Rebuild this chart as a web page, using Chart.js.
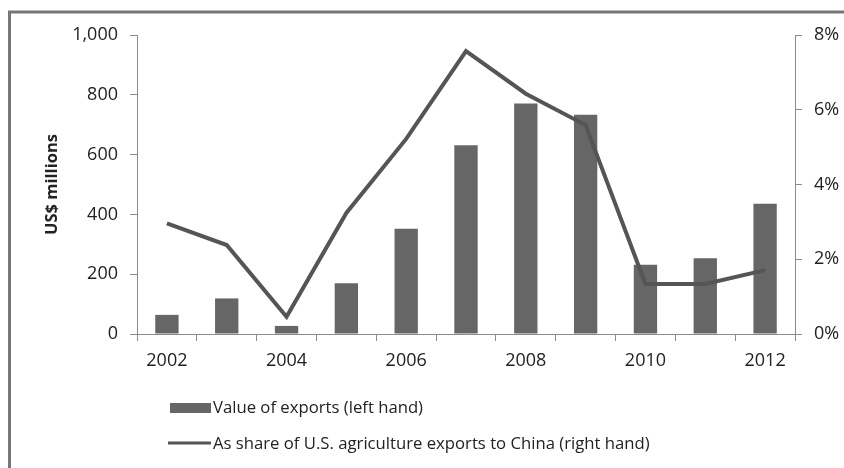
<!DOCTYPE html>
<html>
<head>
<meta charset="utf-8">
<script src="https://cdn.jsdelivr.net/npm/chart.js@4.4.1/dist/chart.umd.min.js"></script>
<style>
  html, body { margin: 0; padding: 0; background: #fff; }
  #wrap { width: 844px; height: 468px; position: relative; }
</style>
</head>
<body>
<div id="wrap"><canvas id="c" width="844" height="468"></canvas></div>
<script>
const years = ['2002','2003','2004','2005','2006','2007','2008','2009','2010','2011','2012'];
const exportValues = [64, 119, 27, 170, 352, 631, 771, 733, 232, 253, 436];
const sharePercent = [2.96, 2.38, 0.46, 3.24, 5.22, 7.57, 6.43, 5.59, 1.34, 1.34, 1.71];
const leftTicks = [0, 200, 400, 600, 800, 1000];
const rightTicks = [0, 2, 4, 6, 8];
const seriesLabels = ['Value of exports (left hand)', 'As share of U.S. agriculture exports to China (right hand)'];
const yTitle = 'US$ millions';

const FONT = '"Open Sans", "Noto Sans", sans-serif';
const barColor = '#666666';
const lineColor = '#555555';
const axisColor = '#8c8c8c';
const textColor = '#222222';

const framePlugin = {
  id: 'frame',
  beforeDraw(chart) {
    const ctx = chart.ctx;
    ctx.save();
    ctx.fillStyle = '#fff';
    ctx.fillRect(0, 0, chart.width, chart.height);
    ctx.strokeStyle = '#777';
    ctx.lineWidth = 3;
    ctx.beginPath();
    ctx.moveTo(844, 12);
    ctx.lineTo(9.5, 12);
    ctx.lineTo(9.5, 468);
    ctx.stroke();
    ctx.restore();
  }
};

const legendPlugin = {
  id: 'customLegend',
  afterDraw(chart) {
    const ctx = chart.ctx;
    const ds = chart.data.datasets;
    ctx.save();
    ctx.font = '16.7px ' + FONT;
    ctx.fillStyle = textColor;
    ctx.textBaseline = 'middle';
    ctx.textAlign = 'left';
    // bar item
    ctx.fillStyle = ds[0].backgroundColor;
    ctx.fillRect(170, 403, 41, 10);
    ctx.fillStyle = textColor;
    ctx.fillText(ds[0].label, 213, 408);
    // line item
    ctx.strokeStyle = ds[1].borderColor;
    ctx.lineWidth = 3;
    ctx.beginPath();
    ctx.moveTo(168, 443);
    ctx.lineTo(211, 443);
    ctx.stroke();
    ctx.fillText(ds[1].label, 213, 444);
    ctx.restore();
  }
};

new Chart(document.getElementById('c'), {
  data: {
    labels: years,
    datasets: [
      {
        type: 'bar',
        label: seriesLabels[0],
        data: exportValues,
        backgroundColor: barColor,
        borderWidth: 0,
        yAxisID: 'yL',
        categoryPercentage: 1,
        barPercentage: 0.39,
        order: 2
      },
      {
        type: 'line',
        label: seriesLabels[1],
        data: sharePercent,
        borderColor: lineColor,
        borderWidth: 4,
        pointRadius: 0,
        tension: 0,
        fill: false,
        yAxisID: 'yR',
        order: 1
      }
    ]
  },
  options: {
    responsive: false,
    animation: false,
    layout: { padding: { left: 42, top: 35, right: 0, bottom: 0 } },
    plugins: { legend: { display: false }, tooltip: { enabled: false } },
    scales: {
      x: {
        offset: true,
        grid: { offset: true, drawOnChartArea: false, drawTicks: true, tickLength: 7, color: axisColor },
        border: { color: axisColor, width: 1 },
        ticks: {
          autoSkip: false, maxRotation: 0, padding: 9,
          color: textColor, font: { family: FONT, size: 18 },
          callback: (v, i) => (i % 2 === 0 ? years[i] : '')
        },
        afterFit(s) { s.height = 134; }
      },
      yL: {
        position: 'left',
        min: 0, max: 1000,
        afterBuildTicks(s) { s.ticks = leftTicks.map(v => ({ value: v })); },
        grid: { drawOnChartArea: false, drawTicks: true, tickLength: 7, color: axisColor },
        border: { color: axisColor, width: 1 },
        ticks: {
          padding: 12, color: textColor, font: { family: FONT, size: 18 },
          callback: v => v.toLocaleString('en-US')
        },
        title: { display: true, text: yTitle, color: textColor, padding: 0, font: { family: FONT, size: 16.5, weight: 'bold' } },
        afterFit(s) { s.width = 95; }
      },
      yR: {
        position: 'right',
        min: 0, max: 8,
        afterBuildTicks(s) { s.ticks = rightTicks.map(v => ({ value: v })); },
        grid: { drawOnChartArea: false, drawTicks: true, tickLength: 7, color: axisColor },
        border: { color: axisColor, width: 1 },
        ticks: {
          padding: 12, color: textColor, font: { family: FONT, size: 18 },
          callback: v => v + '%'
        },
        afterFit(s) { s.width = 49; }
      }
    }
  },
  plugins: [framePlugin, legendPlugin]
});
</script>
</body>
</html>
